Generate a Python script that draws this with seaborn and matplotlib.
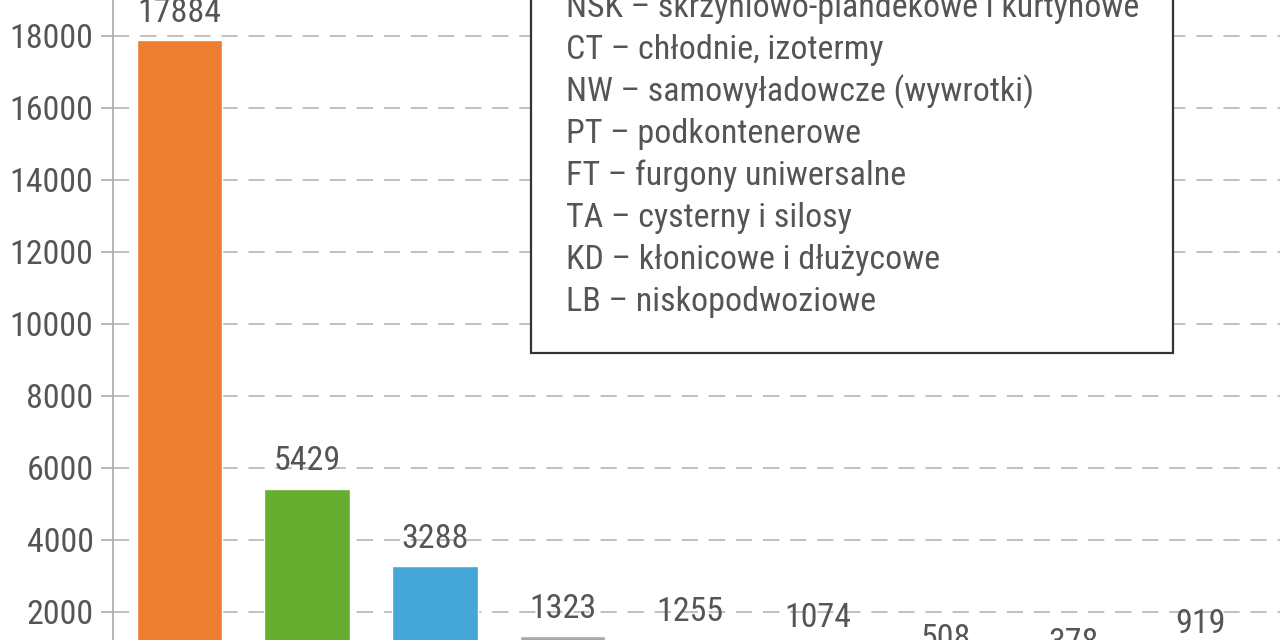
import numpy as np
import pandas as pd
import matplotlib
matplotlib.use("Agg")
from matplotlib import pyplot as plt
from matplotlib.patches import Rectangle
import seaborn as sns

# Bar data (category labels sit below the visible crop)
categories = ['NSK', 'CT', 'NW', 'PT', 'FT', 'TA', 'KD', 'LB', 'inne']
values = [17884, 5429, 3288, 1323, 1255, 1074, 508, 378, 919]
barColors = ['#ED7D31', '#67AD2F', '#45A7D8', '#A8A8A8', '#1F3B57',
             '#F2B134', '#8C5E9E', '#C9302C', '#5B9E8F']
yTicks = [2000, 4000, 6000, 8000, 10000, 12000, 14000, 16000, 18000]

legendLines = [
    'NSK – skrzyniowo-plandekowe i kurtynowe',
    'CT – chłodnie, izotermy',
    'NW – samowyładowcze (wywrotki)',
    'PT – podkontenerowe',
    'FT – furgony uniwersalne',
    'TA – cysterny i silosy',
    'KD – kłonicowe i dłużycowe',
    'LB – niskopodwoziowe',
]

sns.set_style('white')
plt.rcParams['font.family'] = ['Roboto Condensed', 'Fira Sans Condensed', 'DejaVu Sans']
plt.rcParams['font.stretch'] = 'condensed'
textColor = '#555555'
fs = 24.5

df = pd.DataFrame({'kat': categories, 'liczba': values})

fig = plt.figure(figsize=(12.8, 6.4), dpi=100)
# axes runs past the bottom of the picture, like the cropped original
ax = fig.add_axes([113 / 1280, -44 / 640, 1 - 113 / 1280, 684 / 640])

sns.barplot(data=df, x='kat', y='liczba', hue='kat', palette=barColors,
            width=0.67, legend=False, ax=ax, zorder=3, saturation=1)

ax.set_xlim(-0.52, 8.62)
ax.set_ylim(0, 19000)
ax.set_yticks(yTicks)
ax.set_yticklabels([str(t) for t in yTicks], fontsize=fs, color=textColor)
ax.set_xlabel('')
ax.set_ylabel('')
ax.tick_params(axis='y', length=9, width=1.2, color='#AAAAAA', pad=5, left=True)
ax.tick_params(axis='x', labelsize=fs, labelcolor=textColor)

ax.yaxis.grid(True, linestyle=(0, (9, 6)), color='#BBBBBB', linewidth=1.3, zorder=0)
ax.set_axisbelow(True)
for side in ['top', 'right', 'bottom']:
    ax.spines[side].set_visible(False)
ax.spines['left'].set_color('#AAAAAA')
ax.spines['left'].set_linewidth(1.2)

# Value labels above bars
for i, v in enumerate(values):
    ax.annotate(str(v), (i, v), xytext=(0, 8), textcoords='offset points',
                ha='center', va='bottom', fontsize=fs, color=textColor)

# Legend box with abbreviations
box = Rectangle((531 / 1280, 1 - 353 / 640), (1173 - 531) / 1280, 1.0,
                transform=fig.transFigure, facecolor='white',
                edgecolor='#333333', linewidth=1.6, zorder=10)
fig.patches.append(box)
for k, line in enumerate(legendLines):
    yPix = 8 + 42 * k
    fig.text(566 / 1280, 1 - yPix / 640, line, fontsize=fs, color=textColor,
             ha='left', va='center', zorder=11)

fig.savefig('out.png', dpi=100)
